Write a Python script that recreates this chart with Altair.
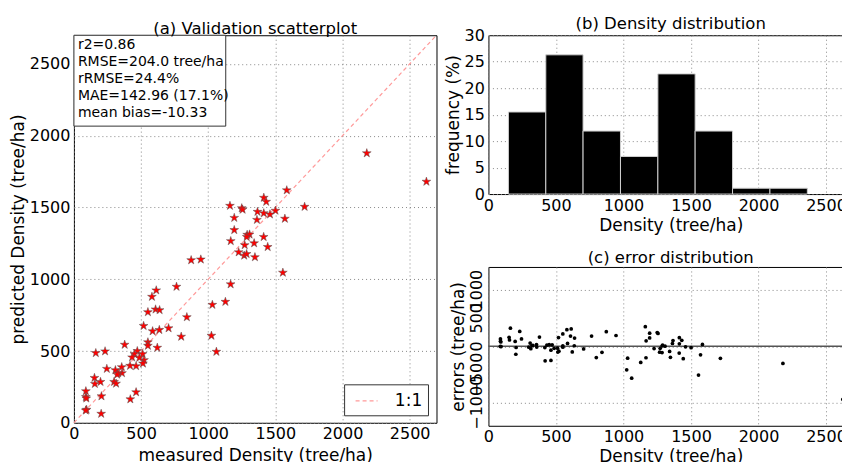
import altair as alt
import pandas as pd

# ---- data ----
meas = [2181, 2625, 1585, 1414, 1432, 1162, 1250, 1256, 1501, 1718, 1367, 1414, 1460,
        1194, 1363, 1571, 1194, 1290, 1308, 1287, 1168, 1272, 1413, 1342, 1443, 1227,
        1268, 1286, 1348, 1556, 1167, 1128, 1031, 1024, 1061, 873, 945, 764, 841, 799,
        705, 636, 586, 613, 581, 608, 638, 551, 519, 551, 551, 621, 378, 163, 232, 245,
        472, 450, 433, 512, 522, 514, 487, 463, 418, 356, 358, 329, 309, 322, 299, 314,
        153, 156, 198, 205, 203, 463, 420, 89, 89, 92, 94, 88]
pred = [1878, 1680, 1620, 1568, 1540, 1512, 1495, 1485, 1478, 1505, 1470, 1460, 1452,
        1428, 1414, 1422, 1343, 1310, 1312, 1295, 1266, 1238, 1295, 1251, 1225, 1188,
        1165, 1176, 1154, 1046, 965, 843, 822, 607, 495, 1133, 1138, 948, 736, 600,
        659, 647, 638, 923, 878, 790, 785, 771, 675, 561, 537, 523, 544, 486, 498, 376,
        500, 479, 456, 479, 437, 413, 453, 395, 397, 388, 346, 346, 367, 336, 285, 273,
        313, 271, 285, 185, 63, 213, 164, 220, 180, 170, 91, 86]

bin_start = [148, 425, 701, 978, 1255, 1531, 1808, 2085]
bin_end = [425, 701, 978, 1255, 1531, 1808, 2085, 2362]
freq = [15.5, 26.3, 11.9, 7.1, 22.7, 11.9, 1.1, 1.1]

diag = [0, 2700]
legend_label = ["1:1"]

stats_lines = ["r2=0.86", "RMSE=204.0 tree/ha", "rRMSE=24.4%",
               "MAE=142.96 (17.1%)", "mean bias=-10.33"]

xticks = [0, 500, 1000, 1500, 2000, 2500]
yticks_a = [0, 500, 1000, 1500, 2000, 2500]
yticks_b = [0, 5, 10, 15, 20, 25, 30]
yticks_c = [-1000, -500, 0, 500, 1000]
ylabels_c = ["\u22121000", "\u2212500", "0", "500", "1000"]

# ---- frames ----
scat_df = pd.DataFrame({"meas": meas, "pred": pred})
hist_df = pd.DataFrame({"b0": bin_start, "b1": bin_end, "f": freq})
diag_df = pd.DataFrame({"x": diag, "y": diag})
stats_df = pd.DataFrame({"t": ["\n".join(stats_lines)]})
leg_df = pd.DataFrame({"t": legend_label})
zero_df = pd.DataFrame({"v": [0]})
ylab_df = pd.DataFrame({"v": yticks_c, "t": ylabels_c})

STAR = ("M0,-1L0.2245,-0.309L0.951,-0.309L0.363,0.118L0.588,0.809L0,0.382"
        "L-0.588,0.809L-0.363,0.118L-0.951,-0.309L-0.2245,-0.309Z")

W = 363
H_A = 388
W_B = 365
H_B = 159

xs = alt.Scale(domain=[0, 2700], nice=False)
ys_a = alt.Scale(domain=[0, 2700], nice=False)

# ---- panel (a) ----
pts = alt.Chart(scat_df).mark_point(
    shape=STAR, filled=True, fill="red", stroke="#555555", strokeWidth=0.5,
    size=85, opacity=1
).encode(
    x=alt.X("meas:Q", scale=xs,
            axis=alt.Axis(values=xticks, title="measured Density (tree/ha)")),
    y=alt.Y("pred:Q", scale=ys_a,
            axis=alt.Axis(values=yticks_a, title="predicted Density (tree/ha)")),
)

line = alt.Chart(diag_df).mark_line(
    color="#ff9999", strokeDash=[4, 3], strokeWidth=1.2
).encode(
    x=alt.X("x:Q", scale=xs),
    y=alt.Y("y:Q", scale=ys_a),
)

box = alt.Chart(stats_df).mark_rect(fill="white", stroke="#333333", strokeWidth=1).encode(
    x=alt.value(0), x2=alt.value(152), y=alt.value(0), y2=alt.value(91)
)
txt = alt.Chart(stats_df).mark_text(
    align="left", baseline="top", lineBreak="\n", fontSize=14, lineHeight=17,
    font="DejaVu Sans", color="black"
).encode(x=alt.value(4), y=alt.value(3), text="t:N")

leg_box = alt.Chart(leg_df).mark_rect(fill="white", stroke="#333333", strokeWidth=1).encode(
    x=alt.value(271), x2=alt.value(355), y=alt.value(350), y2=alt.value(381)
)
leg_line = alt.Chart(leg_df).mark_rule(
    color="#ff9999", strokeDash=[4, 3], strokeWidth=1.2
).encode(x=alt.value(282), x2=alt.value(304), y=alt.value(366))
leg_txt = alt.Chart(leg_df).mark_text(
    align="center", baseline="middle", fontSize=17, font="DejaVu Sans", color="black"
).encode(x=alt.value(335), y=alt.value(366), text="t:N")

panel_a = alt.layer(line, pts, box, txt, leg_box, leg_line, leg_txt).properties(
    width=W, height=H_A,
    title=alt.TitleParams("(a) Validation scatterplot", dy=9)
)

# ---- panel (b) ----
panel_b = alt.Chart(hist_df).mark_rect(
    fill="black", stroke="#d0d0d0", strokeWidth=1
).encode(
    x=alt.X("b0:Q", scale=xs,
            axis=alt.Axis(values=xticks, title="Density (tree/ha)", titlePadding=4)),
    x2="b1:Q",
    y=alt.Y("f:Q", scale=alt.Scale(domain=[0, 30], nice=False),
            axis=alt.Axis(values=yticks_b, title="frequency (%)")),
    y2=alt.datum(0),
).properties(width=W_B, height=H_B,
             title=alt.TitleParams("(b) Density distribution", dy=9))

# ---- panel (c) ----
ys_c = alt.Scale(domain=[-1410, 1410], nice=False)
zero = alt.Chart(zero_df).mark_rule(color="#555555", strokeWidth=1.5).encode(
    y=alt.Y("v:Q", scale=ys_c)
)
err_pts = alt.Chart(scat_df).transform_calculate(
    err="datum.pred - datum.meas"
).mark_circle(color="black", size=14, opacity=1).encode(
    x=alt.X("meas:Q", scale=xs,
            axis=alt.Axis(values=xticks, title="Density (tree/ha)", titlePadding=4)),
    y=alt.Y("err:Q", scale=ys_c,
            axis=alt.Axis(values=yticks_c, title="errors (tree/ha)", labels=False,
                          titlePadding=21)),
)
ylab_c = alt.Chart(ylab_df).mark_text(
    angle=270, align="center", baseline="bottom", fontSize=16,
    font="DejaVu Sans", color="black"
).encode(
    y=alt.Y("v:Q", scale=ys_c), x=alt.value(-3), text="t:N"
)
panel_c = alt.layer(zero, err_pts, ylab_c).properties(
    width=W_B, height=H_B,
    title=alt.TitleParams("(c) error distribution", dy=4)
)

right = alt.vconcat(panel_b, panel_c, spacing=16)
chart = alt.hconcat(panel_a, right, spacing=4).properties(
    padding={"left": 0, "top": 7, "right": -13, "bottom": 0}
).configure(
    font="DejaVu Sans"
).configure_view(
    stroke="black", strokeWidth=1
).configure_axis(
    labelFontSize=16, titleFontSize=17, titleFontWeight="normal",
    labelColor="black", titleColor="black", labelFont="DejaVu Sans",
    titleFont="DejaVu Sans", domain=False, ticks=False, labelPadding=4,
    titlePadding=2, grid=True, gridColor="#888888", gridDash=[1, 3],
    gridWidth=1, labelFlush=False, format="d"
).configure_axisX(
    titlePadding=6, labelPadding=3
).configure_title(
    fontSize=16.5, fontWeight="normal", font="DejaVu Sans", color="black",
    offset=0
)

chart.save("out.html", embed_options={"renderer": "svg", "actions": False})
